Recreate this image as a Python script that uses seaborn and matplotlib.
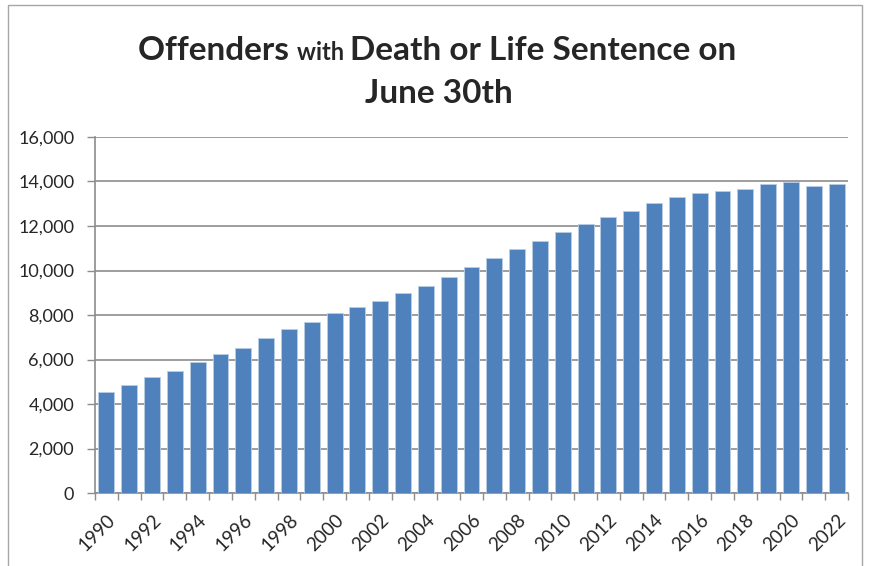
import numpy as np
import pandas as pd
import seaborn as sns
import matplotlib.pyplot as plt
from matplotlib.patches import Rectangle
from matplotlib.ticker import FuncFormatter, FixedLocator

# data
years = list(range(1990, 2023))
offenders = [4540, 4850, 5200, 5500, 5870, 6250, 6530, 6970, 7360, 7700,
             8090, 8360, 8640, 8990, 9290, 9720, 10160, 10550, 10980, 11310,
             11730, 12070, 12390, 12670, 13050, 13290, 13470, 13590, 13680,
             13870, 13960, 13810, 13890]
tick_years = [str(y) for y in years[::2]]

df = pd.DataFrame({'year': [str(y) for y in years], 'count': offenders})

sns.set_style('white')
plt.rcParams['font.family'] = ['Lato', 'DejaVu Sans']

fig = plt.figure(figsize=(8.71, 5.66), dpi=100)
ax = fig.add_axes([95 / 871, 1 - 493 / 566, (848 - 95) / 871, (493 - 137) / 566])

sns.barplot(data=df, x='year', y='count', color='#4F81BD', saturation=1,
            width=0.7, edgecolor='#B9CDE5', linewidth=0.6, ax=ax, zorder=3)

ax.set_ylim(0, 16000)
ax.set_xlim(-0.5, len(years) - 0.5)
ax.set_yticks(np.arange(0, 16001, 2000))
ax.yaxis.set_major_formatter(FuncFormatter(lambda v, p: f'{int(v):,}'))
ax.grid(axis='y', color='#8C8C8C', linewidth=1.2, zorder=0)
ax.set_axisbelow(True)

# labels on every other bar, tick marks at category boundaries
ax.set_xticks(np.arange(0, len(years), 2))
ax.set_xticklabels(tick_years, rotation=45, ha='right', rotation_mode='anchor')
ax.xaxis.set_minor_locator(FixedLocator(np.arange(-0.5, len(years), 1)))
ax.tick_params(axis='x', which='major', length=0, pad=13, labelsize=13.5)
ax.tick_params(axis='x', which='minor', length=5, width=1, color='#8C8C8C', direction='out')
ax.tick_params(axis='y', length=6, width=1, color='#8C8C8C', direction='out', labelsize=13, pad=9)
ax.xaxis.set_ticks_position('bottom')
ax.yaxis.set_ticks_position('left')

for s in ['top', 'right']:
    ax.spines[s].set_visible(False)
for s in ['left', 'bottom']:
    ax.spines[s].set_color('#8C8C8C')
    ax.spines[s].set_linewidth(1.2)

ax.set_xlabel('')
ax.set_ylabel('')

# outer chart border
fig.patches.append(Rectangle((8 / 871, -0.01), (862 - 8) / 871, 1 - 5 / 566 + 0.01,
                             transform=fig.transFigure, fill=False,
                             edgecolor='#A6A6A6', linewidth=1))

# title with a smaller "with"
renderer = fig.canvas.get_renderer()
parts = [('Offenders ', 24), ('with ', 17), ('Death or Life Sentence on', 24)]
texts = []
for s, size in parts:
    t = fig.text(0, 1 - 60 / 566, s, fontsize=size, fontweight='bold', va='baseline', ha='left')
    texts.append(t)
widths = [t.get_window_extent(renderer).width for t in texts]
x = 437 - sum(widths) / 2
for t, w in zip(texts, widths):
    t.set_x(x / 871)
    x += w
fig.text(439 / 871, 1 - 103 / 566, 'June 30th', fontsize=24, fontweight='bold',
         va='baseline', ha='center')

fig.savefig('out.png', dpi=100)
